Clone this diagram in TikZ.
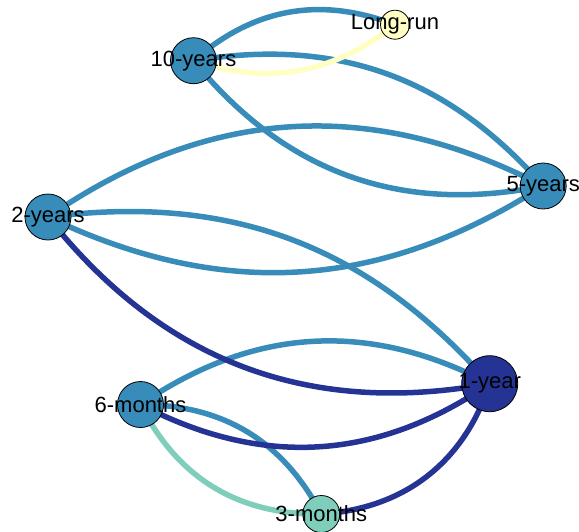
\documentclass[tikz,border=0pt]{standalone}
\usepackage{fontspec}
\setmainfont{Liberation Sans}
\usetikzlibrary{backgrounds}
\definecolor{cblue}{RGB}{56,140,185}
\definecolor{cnavy}{RGB}{37,52,148}
\definecolor{cteal}{RGB}{127,205,187}
\definecolor{cyell}{RGB}{255,255,196}
\tikzset{
  vert/.style={circle, draw=black, line width=0.8pt, inner sep=0pt},
  lbl/.style={inner sep=0pt, font=\fontsize{22pt}{26pt}\selectfont, text=black},
  edge/.style={line width=5.5pt},
}
\begin{document}
\begin{tikzpicture}[x=1pt,y=1pt]
\useasboundingbox (0,0) rectangle (579,-531);
% nodes
\node[vert, fill=cblue, minimum size=46pt] (y10) at (193.5,-60.7) {};
\node[vert, fill=cyell, minimum size=29pt] (lr) at (395,-24.7) {};
\node[vert, fill=cblue, minimum size=46pt] (y5) at (543.2,-186) {};
\node[vert, fill=cblue, minimum size=46pt] (y2) at (48,-217) {};
\node[vert, fill=cnavy, minimum size=56pt] (y1) at (489.7,-383.7) {};
\node[vert, fill=cblue, minimum size=46pt] (m6) at (140.5,-404.5) {};
\node[vert, fill=cteal, minimum size=37pt] (m3) at (321.3,-514) {};
% labels
\node[lbl] (ly10) at (y10) {10-years};
\node[lbl] (llr) at (lr) {Long-run};
\node[lbl] (ly5) at (y5) {5-years};
\node[lbl] (ly2) at (y2) {2-years};
\node[lbl] (ly1) at (y1) {1-year};
\node[lbl] (lm6) at (m6) {6-months};
\node[lbl] (lm3) at (m3) {3-months};
% edges
\begin{scope}[on background layer]
\draw[edge, cblue] (y10.center) to[bend left=31] (lr.center);
\draw[edge, cblue] (y10.center) to[bend left=29] (y5.center);
\draw[edge, cblue] (y10.center) to[bend right=31] (y5.center);
\draw[edge, cblue] (y2.center) to[bend left=31] (y5.center);
\draw[edge, cblue] (y2.center) to[bend right=29] (y5.center);
\draw[edge, cblue] (y2.center) to[bend left=28] (y1.center);
\draw[edge, cblue] (m6.center) to[bend left=31] (y1.center);
\draw[edge, cblue] (m6.center) to[bend left=31] (m3.center);
\draw[edge, cteal] (m6.center) to[bend right=32] (m3.center);
\draw[edge, cnavy] (y2.center) to[bend right=31] (y1.center);
\draw[edge, cnavy] (m6.center) to[bend right=31] (y1.center);
\draw[edge, cnavy] (m3.center) to[bend right=34] (y1.center);
\draw[edge, cyell] (y10.center) to[bend right=28] (lr.center);
\end{scope}
\end{tikzpicture}
\end{document}
